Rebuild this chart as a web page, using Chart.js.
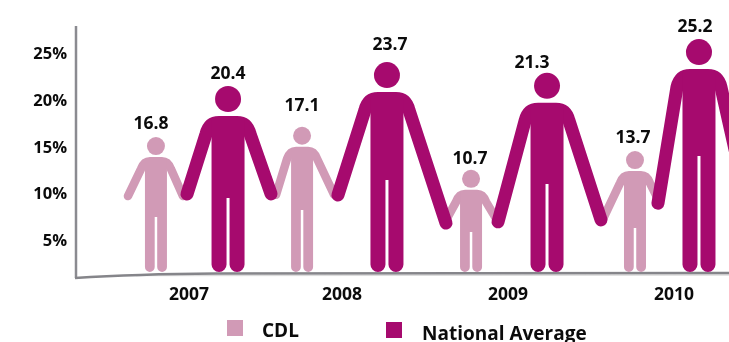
<!DOCTYPE html>
<html><head><meta charset="utf-8">
<style>html,body{margin:0;padding:0;background:#fff}canvas{display:block}</style>
<script src="https://cdn.jsdelivr.net/npm/chart.js@4"></script></head>
<body><canvas id="c" width="729" height="342"></canvas>
<script>
// Printed values
const cdlValues = [16.8, 17.1, 10.7, 13.7];
const natValues = [20.4, 23.7, 21.3, 25.2];
// Height the pictogram actually reaches against the % axis (read from the picture;
// the original figures are not drawn strictly to scale)
const cdlFigureHeights = [16.0, 17.1, 12.5, 14.5];
const natFigureHeights = [21.45, 24.0, 22.85, 26.45];
// Figure placement along the year axis, in years
const cdlSlots = [2006.796, 2007.698, 2008.741, 2009.753];
const natSlots = [2007.241, 2008.222, 2009.210, 2010.148];
const yearTicks = [2007, 2007.944, 2008.969, 2009.994];
const yearLabels = ['2007', '2008', '2009', '2010'];
const percentTicks = [5, 10, 15, 20, 25];

const AXIS_FLOOR = 1.6;
const CDL = '#d19ab6', NAT = '#a60a6e', INK = '#0b0b0b';
const FONT = '"Open Sans", sans-serif';

// Per-figure pose: hand offsets from shoulder line / centre, leg share, label nudge
const poses = {
  0: [ // National
    {l:[-41,78],  r:[43,78],   leg:.40, lab:[0,12]},
    {l:[-49,103], r:[59,131],  leg:.44, lab:[3,17.5]},
    {l:[-49,119], r:[54,117],  leg:.44, lab:[-15,10]},
    {l:[-41,134], r:[48,134],  leg:.50, lab:[-4,12.5]}
  ],
  1: [ // CDL
    {l:[-28,39],  r:[27,39],   leg:.41, lab:[-5,13.5]},
    {l:[-26,48],  r:[32,48],   leg:.43, lab:[0,20.5]},
    {l:[-26,32],  r:[27,32],   leg:.39, lab:[-1,11]},
    {l:[-33,50],  r:[24,30],   leg:.36, lab:[-2,13.5]}
  ]
};
const builds = {
  0: {head:13, neck:30, body:33, gap:3, arm:13, sx:22, drop:18, flat:9, legR:7.5},
  1: {head:9,  neck:20, body:22, gap:2.5, arm:8.5, sx:15, drop:12, flat:6, legR:5}
};

function drawPerson(ctx, cx, top, base, pose, b, color) {
  ctx.save();
  ctx.fillStyle = color; ctx.strokeStyle = color;
  ctx.beginPath(); ctx.arc(cx, top + b.head, b.head, 0, Math.PI * 2); ctx.fill();
  const sh = top + b.neck, mid = sh + b.arm / 2;
  // hand -> shoulder -> across -> shoulder -> hand as one stroked line
  ctx.lineWidth = b.arm; ctx.lineCap = 'round'; ctx.lineJoin = 'round';
  ctx.beginPath();
  ctx.moveTo(cx + pose.l[0], sh + pose.l[1]);
  ctx.lineTo(cx - b.sx, sh + b.drop);
  ctx.quadraticCurveTo(cx - b.sx + 3, mid, cx - b.flat, mid);
  ctx.lineTo(cx + b.flat, mid);
  ctx.quadraticCurveTo(cx + b.sx - 3, mid, cx + b.sx, sh + b.drop);
  ctx.lineTo(cx + pose.r[0], sh + pose.r[1]);
  ctx.stroke();
  // torso and legs as a single path so no seam shows at the crotch
  const crotch = Math.round(base - pose.leg * (base - top));
  const L = cx - b.body / 2, R = cx + b.body / 2, g = b.gap / 2, r = b.legR;
  ctx.beginPath();
  ctx.moveTo(L, sh + 2);
  ctx.lineTo(R, sh + 2);
  ctx.lineTo(R, base - r);
  ctx.arcTo(R, base, R - r, base, r);
  ctx.arcTo(cx + g, base, cx + g, base - r, r);
  ctx.lineTo(cx + g, crotch);
  ctx.lineTo(cx - g, crotch);
  ctx.lineTo(cx - g, base - r);
  ctx.arcTo(cx - g, base, cx - g - r, base, r);
  ctx.arcTo(L, base, L, base - r, r);
  ctx.closePath();
  ctx.fill();
  ctx.restore();
}

const personPlugin = {
  id: 'people',
  beforeDatasetDraw(chart, args) {
    const ctx = chart.ctx, idx = args.index, ds = chart.data.datasets[idx];
    const meta = chart.getDatasetMeta(idx), b = builds[idx];
    meta.data.forEach((el, i) => {
      drawPerson(ctx, el.x, el.y, el.base, poses[idx][i], b, ds.backgroundColor);
    });
    return false;
  },
  afterDatasetsDraw(chart) {
    const ctx = chart.ctx;
    chart.data.datasets.forEach((ds, idx) => {
      chart.getDatasetMeta(idx).data.forEach((el, i) => {
        const lab = poses[idx][i].lab;
        ctx.save();
        ctx.fillStyle = INK; ctx.font = 'bold 17.5px ' + FONT;
        ctx.textAlign = 'center'; ctx.textBaseline = 'middle';
        ctx.fillText(ds.printed[i].toFixed(1), el.x + lab[0], el.y - lab[1]);
        ctx.restore();
      });
    });
    // Legend
    const items = [[1, 227, 320, 262, 332], [0, 386, 322, 422, 334.5]];
    items.forEach(([idx, bx, by, tx, ty]) => {
      const ds = chart.data.datasets[idx];
      ctx.save();
      ctx.fillStyle = ds.backgroundColor; ctx.fillRect(bx, by, 16, 16);
      ctx.fillStyle = INK; ctx.font = 'bold 19px ' + FONT;
      ctx.textAlign = 'left'; ctx.textBaseline = 'middle';
      ctx.fillText(ds.label, tx, ty);
      ctx.restore();
    });
  },
  beforeDatasetsDraw(chart) {
    const ctx = chart.ctx, a = chart.chartArea;
    ctx.save();
    ctx.strokeStyle = '#8b8b90'; ctx.lineWidth = 2.5;
    ctx.beginPath(); ctx.moveTo(a.left, a.top); ctx.lineTo(a.left, a.bottom + 6); ctx.stroke();
    ctx.strokeStyle = '#dcdcdc'; ctx.lineWidth = 1.5;
    ctx.beginPath(); ctx.moveTo(a.left + 60, a.bottom + 3.5); ctx.lineTo(a.right, a.bottom + 3); ctx.stroke();
    ctx.strokeStyle = '#85858a'; ctx.lineWidth = 2.5;
    ctx.beginPath(); ctx.moveTo(a.left - 1, a.bottom + 6);
    ctx.quadraticCurveTo(a.left + 60, a.bottom + 2, a.left + 140, a.bottom + 1.5);
    ctx.lineTo(a.right, a.bottom + 1); ctx.stroke();
    ctx.restore();
  }
};

new Chart(document.getElementById('c'), {
  type: 'bar',
  plugins: [personPlugin],
  data: {
    datasets: [
      {label: 'National Average', printed: natValues, backgroundColor: NAT, base: AXIS_FLOOR,
       data: natSlots.map((x, i) => ({x, y: natFigureHeights[i]}))},
      {label: 'CDL', printed: cdlValues, backgroundColor: CDL, base: AXIS_FLOOR,
       data: cdlSlots.map((x, i) => ({x, y: cdlFigureHeights[i]}))}
    ]
  },
  options: {
    responsive: false, animation: false, grouped: false,
    layout: {padding: {top: 26, left: 0, right: 0, bottom: 0}},
    plugins: {legend: {display: false}, tooltip: {enabled: false}, title: {display: false}},
    scales: {
      x: {
        type: 'linear', offset: false, min: 2006.3025, max: 2010.3333,
        grid: {display: false}, border: {display: false},
        afterBuildTicks: s => { s.ticks = yearTicks.map(value => ({value})); },
        afterFit: s => { s.height = 70; },
        ticks: {
          autoSkip: false, maxRotation: 0, padding: 5, color: INK,
          font: {family: FONT, size: 17.5, weight: 'bold'},
          callback: (v, i) => yearLabels[i]
        }
      },
      y: {
        min: AXIS_FLOOR, max: 27.85,
        grid: {display: false}, border: {display: false},
        afterBuildTicks: s => { s.ticks = percentTicks.map(value => ({value})); },
        afterFit: s => { s.width = 76; },
        ticks: {
          padding: 1, labelOffset: 1.5, color: INK,
          font: {family: FONT, size: 16.5, weight: 'bold'},
          callback: v => v + '%'
        }
      }
    }
  }
});
</script></body></html>
